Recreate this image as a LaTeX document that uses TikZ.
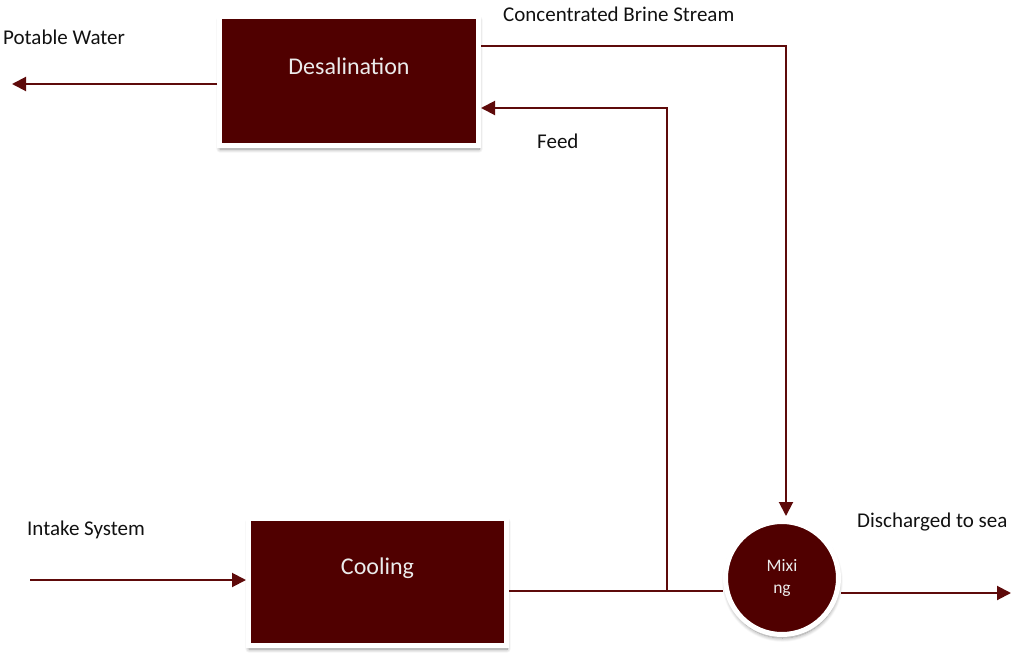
\documentclass[tikz,border=0pt]{standalone}
\usepackage{fontspec}
\setmainfont{Carlito}
\usetikzlibrary{arrows.meta,shadows,shadows.blur}
\definecolor{boxfill}{HTML}{500000}
\definecolor{flowline}{HTML}{5E0A0A}
\definecolor{labeltext}{HTML}{111111}
\tikzset{
  softshadow/.style={blur shadow={shadow blur steps=10, shadow xshift=0.5pt, shadow yshift=-3.5pt,
    shadow blur radius=4pt, shadow opacity=45}},
  procbox/.style={rectangle, fill=boxfill, draw=white, line width=5pt,
    text=white!92!black, font=\fontsize{24}{28}\selectfont, softshadow},
  mixcircle/.style={circle, fill=boxfill, draw=white, line width=5pt, minimum size=113pt, inner sep=0pt,
    text=white!92!black, font=\fontsize{17.5}{22}\selectfont, align=center, softshadow},
  flow/.style={draw=flowline, line width=2pt, -{Triangle[length=14pt,width=14pt]}},
  plainflow/.style={draw=flowline, line width=2pt},
  lbl/.style={font=\fontsize{21}{25}\selectfont, text=labeltext, inner sep=0pt}
}
\begin{document}
\begin{tikzpicture}[x=1pt,y=-1pt]
\useasboundingbox (0,0) rectangle (1013,656);
% nodes
\node[procbox, minimum width=259pt, minimum height=129pt] (desal) at (349,81) {\raisebox{7pt}[0pt][0pt]{Desalination}};
\node[procbox, minimum width=258pt, minimum height=127pt] (cool) at (377.5,582) {\raisebox{8pt}[0pt][0pt]{Cooling}};
\node[mixcircle] (mix) at (782,578) {Mixi\\ng};
% coordinates
\coordinate (pot) at (12,84);
\coordinate (bc) at (786,46);
\coordinate (fc) at (667,108);
\coordinate (j) at (667,591);
\coordinate (intake) at (30,580);
\coordinate (sea) at (1011,593);
% connectors
\draw[flow] (desal.west |- pot) -- (pot);
\draw[flow, shorten >=3pt] (desal.east |- bc) -- (bc) -- (bc |- mix.north);
\draw[flow] (j) -- (fc) -- (desal.east |- fc);
\draw[plainflow] (cool.east |- j) -- (j) -- (j -| mix.west);
\draw[flow] (intake) -- (cool.west |- intake);
\draw[flow] (sea -| mix.east) -- (sea);
% labels
\node[lbl, anchor=base west] (lpot) at (3,44) {Potable Water};
\node[lbl, anchor=base west] (lbrine) at (503,21) {Concentrated Brine Stream};
\node[lbl, anchor=base west] (lfeed) at (537,148) {Feed};
\node[lbl, anchor=base west] (lintake) at (27,535) {Intake System};
\node[lbl, anchor=base west] (lsea) at (857,527) {Discharged to sea};
\end{tikzpicture}
\end{document}
